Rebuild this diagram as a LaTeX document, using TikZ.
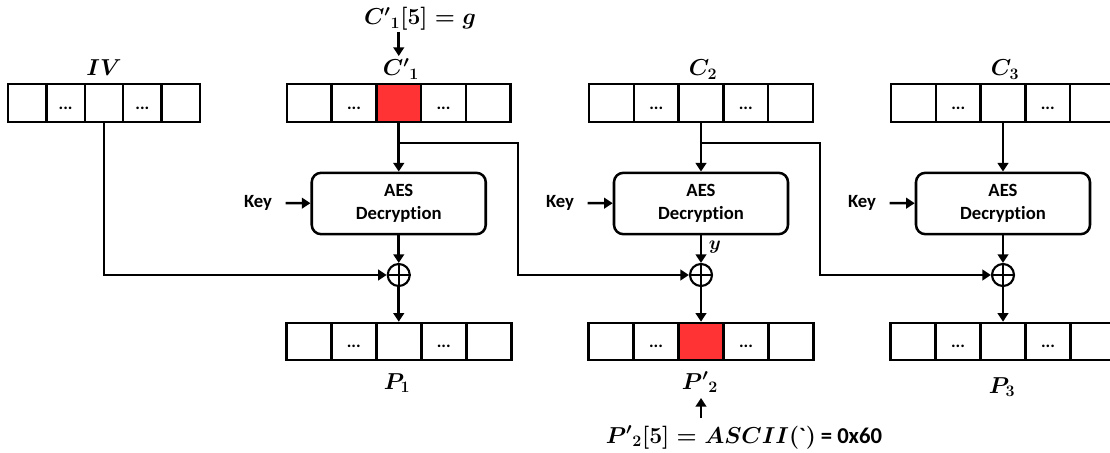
\documentclass[tikz,border=0pt]{standalone}
\usepackage{amsmath}
\usepackage{fontspec}
\setmainfont{Carlito}[Ligatures={TeX,NoCommon}]
\newfontfamily\gravefont{Carlito}
\usetikzlibrary{arrows.meta}
\definecolor{cellred}{RGB}{255,51,51}

% #1 name, #2 centre x, #3 cell width (px), #4 centre y, #5 height (px), #6 fill of middle cell
\newcommand{\cellrow}[6]{%
  \foreach \i in {1,2,4,5} {
    \node[cell, minimum width=#3*0.75pt, minimum height=#5*0.75pt] (#1\i) at ({#2+(\i-3)*#3}, #4) {};
  }
  \node[cell, fill=#6, minimum width=#3*0.75pt, minimum height=#5*0.75pt] (#13) at (#2, #4) {};
  \node[dotsty] at ([yshift=-4pt]#12) {...};
  \node[dotsty] at ([yshift=-4pt]#14) {...};
}

\begin{document}
\begin{tikzpicture}[x=0.75pt,y=-0.75pt,
  cell/.style={draw, line width=1.9pt, fill=white, inner sep=0pt},
  dotsty/.style={inner sep=0pt, font=\fontsize{13}{15}\selectfont\bfseries},
  aes/.style={draw, line width=1.9pt, rounded corners=7pt, minimum width=130.5pt, minimum height=46pt, align=center, inner sep=0pt, font=\fontsize{14}{17.5}\selectfont\bfseries},
  xor/.style={draw, circle, line width=1.6pt, minimum size=16.5pt, inner sep=0pt},
  keylab/.style={inner sep=0pt, font=\fontsize{14}{16}\selectfont\bfseries},
  mlab/.style={inner sep=0pt, anchor=base, font=\fontsize{16.5}{18}\selectfont\bfseries\mathversion{bold}},
  arr/.style={line width=2pt, -{Triangle[length=6.5pt,width=8pt]}}
]
\useasboundingbox (0,0) rectangle (1110,453);

% ---- blocks ----
\cellrow{iv}{104}{38.4}{103}{38}{white}
\cellrow{ca}{398.75}{44.7}{103}{38}{cellred}
\cellrow{cb}{701}{44.8}{103}{38}{white}
\cellrow{cc}{1003}{44.8}{103}{38}{white}
\cellrow{pa}{398.75}{45}{341.5}{37}{white}
\cellrow{pb}{701}{45}{341.5}{37}{cellred}
\cellrow{pc}{1003}{45}{341.5}{37}{white}

% ---- AES boxes ----
\node[aes] (aes1) at (398.75,203.5) {AES\\Decryption};
\node[aes] (aes2) at (701,203.5) {AES\\Decryption};
\node[aes] (aes3) at (1003,203.5) {AES\\Decryption};

% ---- XOR ----
\foreach \n/\x in {x1/398.75, x2/701, x3/1003} {
  \node[xor] (\n) at (\x,275) {};
  \draw[line width=1.6pt] (\n.north) -- (\n.south) (\n.west) -- (\n.east);
}

% ---- Key inputs ----
\node[keylab] (key1) at (258,203) {Key};
\node[keylab] (key2) at (560,203) {Key};
\node[keylab] (key3) at (862,203) {Key};
\draw[arr, shorten <=10pt] (key1) -- (aes1);
\draw[arr, shorten <=10pt] (key2) -- (aes2);
\draw[arr, shorten <=10pt] (key3) -- (aes3);

% ---- labels ----
\node[mlab] (ivlab) at (104,75) {$IV$};
\node[mlab] (calab) at (401,76) {${C'}_1$};
\node[mlab] (cblab) at (703,76) {$C_2$};
\node[mlab] (cclab) at (1005,76) {$C_3$};
\node[mlab] (palab) at (397,389) {$P_1$};
\node[mlab] (pblab) at (700,389) {${P'}_2$};
\node[mlab] (pclab) at (1002,393) {$P_3$};
\node[mlab] (glab) at (420,25) {${C'}_1[5] = g$};
\node[mlab] (asc) at (744,443)
  {${P'}_2[5] = ASCII(\text{\gravefont\bfseries\symbol{96}})$ {\fontsize{17}{20}\selectfont = 0x60}};
\node[mlab, font=\fontsize{13.5}{15}\selectfont\bfseries\mathversion{bold}] (ylab) at (715,249) {$y$};

% ---- top / bottom pointer arrows ----
\coordinate (gs) at (398.75,32);
\coordinate (ge) at (398.75,56);
\draw[arr] (gs) -- (ge);
\coordinate (bs) at (701,418);
\coordinate (be) at (701,398);
\draw[arr] (bs) -- (be);

% ---- data flow ----
\draw[arr] (ca3.south) -- (aes1.north);
\draw[arr] (cb3.south) -- (aes2.north);
\draw[arr] (cc3.south) -- (aes3.north);
\draw[arr] (aes1.south) -- (x1.north);
\draw[arr] (aes2.south) -- (x2.north);
\draw[arr] (aes3.south) -- (x3.north);
\draw[arr] (x1.south) -- (pa3.north);
\draw[arr] (x2.south) -- (pb3.north);
\draw[arr] (x3.south) -- (pc3.north);

\draw[arr] (iv3.south) |- (x1.west);

\coordinate (b1) at (398.75,143);
\coordinate (k1) at (518,143);
\draw[arr] (b1) -- (k1) |- (x2.west);
\coordinate (b2) at (701,143);
\coordinate (k2) at (820,143);
\draw[arr] (b2) -- (k2) |- (x3.west);
\end{tikzpicture}
\end{document}
